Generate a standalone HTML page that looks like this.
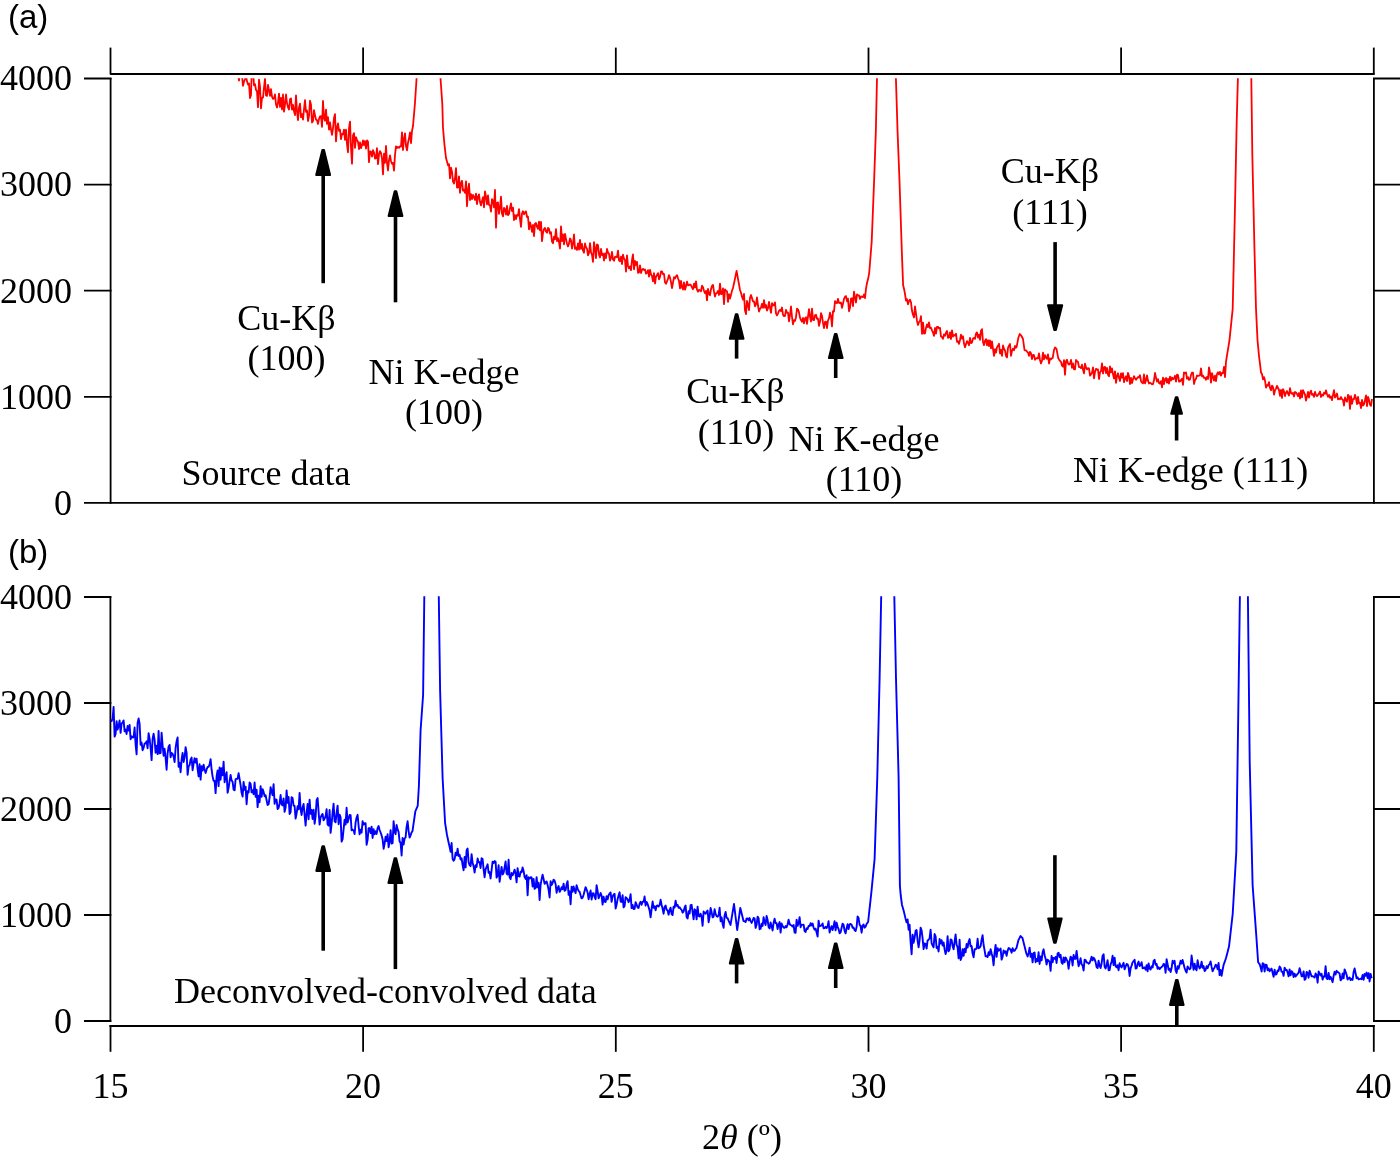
<!DOCTYPE html>
<html><head><meta charset="utf-8"><style>
html,body{margin:0;padding:0;background:#fff;width:1400px;height:1157px;overflow:hidden}
svg{display:block;will-change:transform}
</style></head><body><svg width="1400" height="1157" viewBox="0 0 1400 1157"><path d="M110.2 74H1374.6" stroke="#000" stroke-width="1.8" fill="none"/><path d="M110.5 47.6V74.5" stroke="#000" stroke-width="1.8"/><path d="M363.1 47.6V74.5" stroke="#000" stroke-width="1.8"/><path d="M615.8 47.6V74.5" stroke="#000" stroke-width="1.8"/><path d="M868.5 47.6V74.5" stroke="#000" stroke-width="1.8"/><path d="M1121.1 47.6V74.5" stroke="#000" stroke-width="1.8"/><path d="M1373.8 47.6V74.5" stroke="#000" stroke-width="1.8"/><path d="M110.6 78V503.8" stroke="#000" stroke-width="1.8"/><path d="M1373.9 78V503.8" stroke="#000" stroke-width="1.8"/><path d="M84 78.5H111.5M1373 78.5H1400" stroke="#000" stroke-width="1.8"/><path d="M84 184.6H111.5M1373 184.6H1400" stroke="#000" stroke-width="1.8"/><path d="M84 290.7H111.5M1373 290.7H1400" stroke="#000" stroke-width="1.8"/><path d="M84 396.8H111.5M1373 396.8H1400" stroke="#000" stroke-width="1.8"/><path d="M84 502.9H1400" stroke="#000" stroke-width="1.8"/><path d="M110.4 596.1V1021.9" stroke="#000" stroke-width="1.8"/><path d="M1373.9 596.1V1021.9" stroke="#000" stroke-width="1.8"/><path d="M84 597.0H111.3M1373 597.0H1400" stroke="#000" stroke-width="1.8"/><path d="M84 703.0H111.3M1373 703.0H1400" stroke="#000" stroke-width="1.8"/><path d="M84 809.0H111.3M1373 809.0H1400" stroke="#000" stroke-width="1.8"/><path d="M84 915.0H111.3M1373 915.0H1400" stroke="#000" stroke-width="1.8"/><path d="M84 1021.0H111.3M1373 1021.0H1400" stroke="#000" stroke-width="1.8"/><path d="M109.5 1026H1374.8" stroke="#000" stroke-width="1.8"/><path d="M110.5 1025.1V1051.8" stroke="#000" stroke-width="1.8"/><path d="M363.1 1025.1V1051.8" stroke="#000" stroke-width="1.8"/><path d="M615.8 1025.1V1051.8" stroke="#000" stroke-width="1.8"/><path d="M868.5 1025.1V1051.8" stroke="#000" stroke-width="1.8"/><path d="M1121.1 1025.1V1051.8" stroke="#000" stroke-width="1.8"/><path d="M1373.8 1025.1V1051.8" stroke="#000" stroke-width="1.8"/><path d="M323.2 283.2V175.0" stroke="#000" stroke-width="3.6"/><path d="M316.2 175.0L330.1 175.0L324.0 150.1L322.4 150.1Z" fill="#000" stroke="#000" stroke-width="2" stroke-linejoin="round"/><path d="M395.5 302.3V216.1" stroke="#000" stroke-width="3.6"/><path d="M388.6 216.1L402.4 216.1L396.3 191.2L394.7 191.2Z" fill="#000" stroke="#000" stroke-width="2" stroke-linejoin="round"/><path d="M736.6 358.6V338.7" stroke="#000" stroke-width="3.6"/><path d="M729.8 338.7L743.5 338.7L737.4 314.2L735.8 314.2Z" fill="#000" stroke="#000" stroke-width="2" stroke-linejoin="round"/><path d="M835.7 378.0V358.1" stroke="#000" stroke-width="3.6"/><path d="M828.9 358.1L842.6 358.1L836.5 333.9L834.9 333.9Z" fill="#000" stroke="#000" stroke-width="2" stroke-linejoin="round"/><path d="M1055.1 242.1V305.3" stroke="#000" stroke-width="3.6"/><path d="M1048.0 305.3L1062.2 305.3L1055.9 329.9L1054.3 329.9Z" fill="#000" stroke="#000" stroke-width="2" stroke-linejoin="round"/><path d="M1176.6 440.5V413.8" stroke="#000" stroke-width="3.6"/><path d="M1171.2 413.8L1182.0 413.8L1177.4 397.2L1175.8 397.2Z" fill="#000" stroke="#000" stroke-width="2" stroke-linejoin="round"/><path d="M323.2 950.7V870.9" stroke="#000" stroke-width="3.6"/><path d="M316.3 870.9L330.1 870.9L324.0 846.3L322.4 846.3Z" fill="#000" stroke="#000" stroke-width="2" stroke-linejoin="round"/><path d="M395.4 969.1V882.9" stroke="#000" stroke-width="3.6"/><path d="M388.4 882.9L402.3 882.9L396.2 858.3L394.6 858.3Z" fill="#000" stroke="#000" stroke-width="2" stroke-linejoin="round"/><path d="M736.6 983.4V963.6" stroke="#000" stroke-width="3.6"/><path d="M729.8 963.6L743.5 963.6L737.4 939.0L735.8 939.0Z" fill="#000" stroke="#000" stroke-width="2" stroke-linejoin="round"/><path d="M835.7 988.0V968.1" stroke="#000" stroke-width="3.6"/><path d="M828.9 968.1L842.6 968.1L836.5 943.5L834.9 943.5Z" fill="#000" stroke="#000" stroke-width="2" stroke-linejoin="round"/><path d="M1054.9 855.2V918.4" stroke="#000" stroke-width="3.6"/><path d="M1048.2 918.4L1061.7 918.4L1055.7 942.7L1054.1 942.7Z" fill="#000" stroke="#000" stroke-width="2" stroke-linejoin="round"/><path d="M1176.8 1025.0V1004.9" stroke="#000" stroke-width="3.6"/><path d="M1170.0 1004.9L1183.6 1004.9L1177.6 980.1L1176.0 980.1Z" fill="#000" stroke="#000" stroke-width="2" stroke-linejoin="round"/><defs><clipPath id="ca"><rect x="110" y="78.2" width="1264" height="425"/></clipPath><clipPath id="cb"><rect x="110" y="596.3" width="1264" height="425"/></clipPath></defs><path clip-path="url(#ca)" d="M228.0 62.4L229.0 66.6L230.0 61.5L231.0 49.1L232.0 70.2L233.0 68.3L234.0 61.5L235.0 73.1L236.0 73.5L237.0 74.7L238.0 74.5L239.0 80.6L240.0 71.5L241.0 76.9L242.0 75.6L243.0 85.8L244.0 81.9L245.0 79.3L246.0 75.8L247.0 81.3L248.0 84.5L249.0 83.4L250.0 98.0L251.0 95.1L252.0 62.4L253.0 69.4L254.0 85.3L255.0 84.2L256.0 90.0L257.0 91.2L258.0 107.2L259.0 79.7L260.0 86.5L261.0 108.4L262.0 97.6L263.0 97.6L264.0 87.6L265.0 78.8L266.0 95.4L267.0 95.9L268.0 84.9L269.0 90.1L270.0 95.8L271.0 89.1L272.0 96.6L273.0 98.9L274.0 98.5L275.0 94.4L276.0 104.3L277.0 107.5L278.0 102.6L279.0 93.6L280.0 106.9L281.0 97.9L282.0 109.5L283.0 94.5L284.0 111.6L285.0 104.5L286.0 94.5L287.0 103.1L288.0 107.4L289.0 109.5L290.0 99.2L291.0 98.4L292.0 109.7L293.0 104.9L294.0 111.1L295.0 115.1L296.0 95.4L297.0 111.5L298.0 120.2L299.0 107.6L300.0 103.6L301.0 117.1L302.0 114.2L303.0 119.6L304.0 109.3L305.0 100.2L306.0 111.9L307.0 110.5L308.0 121.0L309.0 116.1L310.0 100.7L311.0 104.6L312.0 122.5L313.0 121.1L314.0 110.1L315.0 115.3L316.0 119.5L317.0 120.3L318.0 123.9L319.0 119.1L320.0 116.4L321.0 116.2L322.0 126.9L323.0 101.0L324.0 118.4L325.0 120.7L326.0 109.6L327.0 123.9L328.0 117.2L329.0 129.6L330.0 122.5L331.0 129.6L332.0 134.8L333.0 128.3L334.0 118.0L335.0 114.2L336.0 141.4L337.0 127.7L338.0 123.4L339.0 130.9L340.0 129.7L341.0 139.1L342.0 133.8L343.0 134.2L344.0 129.7L345.0 139.8L346.0 129.6L347.0 144.5L348.0 152.3L349.0 128.2L350.0 121.6L351.0 147.7L352.0 163.7L353.0 135.4L354.0 133.1L355.0 147.9L356.0 137.2L357.0 139.8L358.0 141.9L359.0 149.1L360.0 142.3L361.0 148.1L362.0 145.2L363.0 140.5L364.0 145.0L365.0 141.0L366.0 148.7L367.0 140.4L368.0 141.6L369.0 162.2L370.0 151.4L371.0 151.7L372.0 156.6L373.0 150.2L374.0 152.5L375.0 158.6L376.0 158.2L377.0 148.2L378.0 164.2L379.0 154.3L380.0 151.1L381.0 153.0L382.0 158.5L383.0 174.4L384.0 153.6L385.0 162.8L386.0 146.0L387.0 162.8L388.0 170.5L389.0 160.2L390.0 155.5L391.0 161.0L392.0 163.8L393.0 162.9L394.0 170.6L395.0 154.9L396.0 146.3L397.0 148.0L398.0 146.9L399.0 147.8L400.0 146.3L401.0 146.6L402.0 132.3L403.0 150.0L404.0 138.8L405.0 133.3L406.0 146.1L407.0 150.4L408.0 142.7L409.0 138.3L410.0 132.3L411.0 143.1L412.0 131.0L413.0 126.0L414.0 114.4L414.9 104.0L415.0 102.5L416.0 87.2L416.6 78.0L417.0 70.0L418.0 50.0L419.0 35.0L420.0 20.0L421.0 20.0L422.0 20.0L423.0 20.0L424.0 20.0L425.0 20.0L426.0 20.0L427.0 20.0L428.0 20.0L429.0 20.0L430.0 20.0L431.0 20.0L432.0 20.0L433.0 20.0L434.0 20.0L435.0 20.0L436.0 20.0L437.0 20.0L438.0 35.0L439.0 50.0L440.0 68.7L440.5 78.0L441.0 85.2L442.0 99.7L442.3 104.0L443.0 128.0L444.0 139.3L444.5 145.0L445.0 149.3L446.0 158.0L447.0 161.5L448.0 165.4L449.0 164.2L450.0 178.4L451.0 167.7L452.0 171.9L453.0 181.7L454.0 183.6L455.0 178.5L456.0 168.1L457.0 187.5L458.0 187.5L459.0 176.4L460.0 192.8L461.0 183.2L462.0 180.8L463.0 190.6L464.0 189.9L465.0 192.8L466.0 181.4L467.0 206.3L468.0 189.9L469.0 183.7L470.0 200.0L471.0 194.1L472.0 199.0L473.0 194.9L474.0 197.3L475.0 199.9L476.0 193.7L477.0 204.1L478.0 196.7L479.0 194.4L480.0 202.0L481.0 205.4L482.0 201.0L483.0 197.2L484.0 207.4L485.0 191.3L486.0 196.6L487.0 204.4L488.0 195.3L489.0 205.0L490.0 205.3L491.0 211.6L492.0 199.1L493.0 201.0L494.0 207.3L495.0 189.9L496.0 227.7L497.0 202.8L498.0 202.4L499.0 213.8L500.0 207.9L501.0 196.7L502.0 213.7L503.0 216.3L504.0 207.8L505.0 209.3L506.0 214.7L507.0 206.0L508.0 215.2L509.0 214.0L510.0 207.9L511.0 203.3L512.0 211.1L513.0 207.6L514.0 220.1L515.0 215.1L516.0 219.1L517.0 215.0L518.0 215.5L519.0 209.1L520.0 219.2L521.0 226.9L522.0 213.3L523.0 211.2L524.0 214.3L525.0 212.4L526.0 211.3L527.0 217.0L528.0 216.7L529.0 229.4L530.0 222.3L531.0 226.1L532.0 231.9L533.0 225.0L534.0 236.2L535.0 223.8L536.0 223.0L537.0 226.8L538.0 228.9L539.0 221.7L540.0 230.4L541.0 221.8L542.0 241.1L543.0 232.8L544.0 229.1L545.0 227.9L546.0 231.5L547.0 232.8L548.0 227.9L549.0 228.9L550.0 233.7L551.0 232.3L552.0 241.6L553.0 243.2L554.0 236.7L555.0 239.2L556.0 229.1L557.0 241.1L558.0 238.1L559.0 242.0L560.0 248.5L561.0 226.4L562.0 241.0L563.0 234.4L564.0 244.3L565.0 233.9L566.0 238.9L567.0 243.7L568.0 246.5L569.0 243.4L570.0 238.4L571.0 240.2L572.0 248.7L573.0 243.6L574.0 234.5L575.0 248.9L576.0 247.4L577.0 249.8L578.0 243.5L579.0 249.7L580.0 239.9L581.0 248.8L582.0 243.8L583.0 250.6L584.0 252.7L585.0 243.5L586.0 247.3L587.0 248.7L588.0 255.4L589.0 253.0L590.0 243.1L591.0 252.3L592.0 254.9L593.0 261.9L594.0 242.1L595.0 248.2L596.0 258.2L597.0 244.4L598.0 245.2L599.0 254.7L600.0 257.5L601.0 249.0L602.0 255.1L603.0 253.6L604.0 260.7L605.0 253.5L606.0 258.1L607.0 249.0L608.0 252.6L609.0 253.9L610.0 260.6L611.0 258.1L612.0 252.0L613.0 259.5L614.0 260.7L615.0 256.9L616.0 256.6L617.0 257.2L618.0 250.7L619.0 260.4L620.0 261.2L621.0 256.6L622.0 264.2L623.0 254.6L624.0 258.6L625.0 260.0L626.0 271.7L627.0 255.4L628.0 265.7L629.0 268.4L630.0 266.4L631.0 270.2L632.0 260.0L633.0 254.5L634.0 269.3L635.0 261.0L636.0 265.0L637.0 261.9L638.0 272.9L639.0 272.4L640.0 265.3L641.0 273.0L642.0 269.8L643.0 268.8L644.0 270.0L645.0 269.4L646.0 273.7L647.0 272.7L648.0 270.1L649.0 276.7L650.0 269.8L651.0 274.4L652.0 276.0L653.0 281.3L654.0 273.1L655.0 283.5L656.0 276.7L657.0 274.9L658.0 273.1L659.0 279.3L660.0 277.0L661.0 271.5L662.0 271.4L663.0 274.1L664.0 274.0L665.0 282.3L666.0 283.8L667.0 281.4L668.0 278.7L669.0 275.1L670.0 277.5L671.0 282.1L672.0 288.2L673.0 282.7L674.0 277.1L675.0 278.5L676.0 276.3L677.0 275.1L678.0 278.3L679.0 280.8L680.0 288.5L681.0 281.0L682.0 287.3L683.0 289.5L684.0 282.5L685.0 289.7L686.0 286.3L687.0 281.7L688.0 285.3L689.0 285.1L690.0 284.5L691.0 285.3L692.0 287.5L693.0 289.2L694.0 283.7L695.0 287.5L696.0 281.3L697.0 289.6L698.0 291.7L699.0 289.8L700.0 290.4L701.0 291.4L702.0 285.6L703.0 287.3L704.0 290.8L705.0 293.1L706.0 290.9L707.0 300.3L708.0 288.9L709.0 293.7L710.0 295.2L711.0 289.1L712.0 286.0L713.0 285.0L714.0 291.7L715.0 296.6L716.0 293.3L717.0 293.0L718.0 291.0L719.0 295.0L720.0 283.7L721.0 294.2L722.0 293.8L723.0 288.3L724.0 304.1L725.0 289.4L726.0 290.7L727.0 291.2L728.0 301.9L729.0 294.2L730.0 298.5L731.0 294.8L732.0 290.8L733.0 288.0L734.0 283.3L735.0 278.6L736.0 273.8L736.6 271.0L737.0 273.2L738.0 278.8L739.0 284.4L740.0 290.0L741.0 292.8L742.0 296.8L743.0 299.6L744.0 293.9L745.0 310.6L746.0 314.1L747.0 300.9L748.0 304.5L749.0 310.2L750.0 297.7L751.0 295.0L752.0 298.1L753.0 301.4L754.0 301.4L755.0 306.3L756.0 304.3L757.0 297.5L758.0 305.5L759.0 311.5L760.0 308.8L761.0 307.7L762.0 303.8L763.0 307.8L764.0 300.1L765.0 307.6L766.0 305.0L767.0 310.6L768.0 308.1L769.0 301.8L770.0 307.7L771.0 312.8L772.0 303.1L773.0 305.5L774.0 304.9L775.0 302.4L776.0 313.3L777.0 315.5L778.0 313.3L779.0 310.9L780.0 309.8L781.0 311.1L782.0 307.5L783.0 314.8L784.0 316.2L785.0 315.8L786.0 309.9L787.0 312.7L788.0 312.6L789.0 321.3L790.0 314.8L791.0 306.5L792.0 317.0L793.0 324.3L794.0 320.1L795.0 320.9L796.0 317.2L797.0 308.7L798.0 309.4L799.0 312.4L800.0 317.7L801.0 320.1L802.0 321.8L803.0 317.9L804.0 323.4L805.0 318.6L806.0 317.2L807.0 323.9L808.0 316.6L809.0 309.1L810.0 316.6L811.0 321.5L812.0 308.7L813.0 319.9L814.0 320.2L815.0 315.3L816.0 314.8L817.0 318.8L818.0 318.6L819.0 325.9L820.0 321.8L821.0 313.1L822.0 316.0L823.0 322.9L824.0 328.0L825.0 321.8L826.0 321.6L827.0 328.1L828.0 320.5L829.0 318.1L830.0 312.7L831.0 316.2L832.0 326.5L833.0 311.1L834.0 311.5L835.0 301.1L836.0 302.7L837.0 303.1L838.0 298.8L839.0 302.9L840.0 303.1L841.0 302.4L842.0 307.8L843.0 303.9L844.0 298.8L845.0 296.8L846.0 296.1L847.0 301.4L848.0 298.7L849.0 311.3L850.0 307.7L851.0 298.7L852.0 298.3L853.0 306.2L854.0 291.7L855.0 297.2L856.0 302.5L857.0 294.4L858.0 295.3L859.0 295.5L860.0 299.0L861.0 296.4L862.0 296.9L863.0 297.1L864.0 294.5L865.0 298.1L866.0 288.7L867.0 283.0L868.0 279.3L869.0 274.1L869.2 273.0L870.0 263.0L871.0 250.4L871.7 241.6L872.0 234.0L873.0 208.8L874.0 183.5L874.1 181.0L875.0 155.4L875.8 132.6L876.0 123.5L877.0 78.0L878.0 40.0L879.0 40.0L880.0 40.0L881.0 40.0L882.0 40.0L883.0 40.0L884.0 40.0L885.0 40.0L886.0 40.0L887.0 40.0L888.0 40.0L889.0 40.0L890.0 40.0L891.0 40.0L892.0 40.0L893.0 40.0L894.0 40.0L895.0 40.0L895.9 78.0L896.0 81.2L897.0 113.3L897.6 132.6L898.0 142.8L899.0 168.3L899.5 181.0L900.0 196.1L901.0 226.4L901.9 253.7L902.0 256.3L903.0 282.4L903.1 285.0L904.0 288.7L905.0 294.0L906.0 300.7L907.0 299.3L908.0 304.3L909.0 300.8L910.0 299.7L911.0 302.3L912.0 310.8L913.0 314.7L914.0 317.5L915.0 306.5L916.0 313.6L917.0 320.9L918.0 325.0L919.0 322.0L920.0 320.9L921.0 316.2L922.0 333.8L923.0 322.7L924.0 333.6L925.0 333.3L926.0 327.9L927.0 324.4L928.0 327.1L929.0 322.4L930.0 328.2L931.0 327.7L932.0 330.3L933.0 332.6L934.0 335.8L935.0 328.0L936.0 333.7L937.0 327.0L938.0 326.8L939.0 328.4L940.0 327.9L941.0 336.4L942.0 337.1L943.0 338.9L944.0 334.3L945.0 335.7L946.0 332.8L947.0 331.0L948.0 337.8L949.0 337.5L950.0 332.5L951.0 339.0L952.0 330.4L953.0 336.5L954.0 335.1L955.0 335.5L956.0 333.7L957.0 341.9L958.0 341.2L959.0 343.9L960.0 340.0L961.0 334.7L962.0 338.6L963.0 336.3L964.0 343.5L965.0 347.3L966.0 344.3L967.0 341.1L968.0 342.6L969.0 345.2L970.0 338.0L971.0 343.2L972.0 342.5L973.0 338.6L974.0 338.0L975.0 338.9L976.0 333.6L977.0 332.4L978.0 337.5L979.0 334.7L980.0 339.9L981.0 330.8L982.0 329.1L983.0 342.3L984.0 345.1L985.0 340.8L986.0 339.1L987.0 345.4L988.0 340.2L989.0 346.2L990.0 340.4L991.0 348.3L992.0 341.5L993.0 348.9L994.0 355.8L995.0 349.2L996.0 352.7L997.0 347.2L998.0 345.8L999.0 343.8L1000.0 353.5L1001.0 349.9L1002.0 355.9L1003.0 345.5L1004.0 348.8L1005.0 350.4L1006.0 355.9L1007.0 357.4L1008.0 347.9L1009.0 345.7L1010.0 344.0L1011.0 355.9L1012.0 350.9L1013.0 348.7L1014.0 350.4L1015.0 345.9L1016.0 347.7L1016.6 347.0L1017.0 344.9L1018.0 339.6L1018.3 338.0L1019.0 336.0L1019.7 334.0L1020.0 334.3L1021.0 335.4L1021.5 336.0L1022.0 337.0L1023.0 339.0L1024.0 346.3L1024.5 350.0L1025.0 350.4L1026.0 350.4L1027.0 351.6L1028.0 352.6L1029.0 355.8L1030.0 351.8L1031.0 353.3L1032.0 359.0L1033.0 354.8L1034.0 355.1L1035.0 359.8L1036.0 358.3L1037.0 358.1L1038.0 358.5L1039.0 353.3L1040.0 359.9L1041.0 363.5L1042.0 360.6L1043.0 352.7L1044.0 359.3L1045.0 355.2L1046.0 357.7L1047.0 358.9L1048.0 354.3L1049.0 363.5L1050.0 358.5L1051.0 359.3L1052.0 358.2L1052.7 358.0L1053.0 356.2L1054.0 350.0L1055.0 347.5L1056.0 348.5L1056.5 349.0L1057.0 351.6L1058.0 356.9L1058.2 358.0L1059.0 359.4L1060.0 360.9L1061.0 361.9L1062.0 365.7L1063.0 366.7L1064.0 360.1L1065.0 374.8L1066.0 361.3L1067.0 359.7L1068.0 363.5L1069.0 364.5L1070.0 363.8L1071.0 359.9L1072.0 367.8L1073.0 363.4L1074.0 369.4L1075.0 369.3L1076.0 360.0L1077.0 361.3L1078.0 362.0L1079.0 367.2L1080.0 367.2L1081.0 368.2L1082.0 364.7L1083.0 369.7L1084.0 373.3L1085.0 363.6L1086.0 367.5L1087.0 369.4L1088.0 368.2L1089.0 368.3L1090.0 375.7L1091.0 374.3L1092.0 372.6L1093.0 367.3L1094.0 378.3L1095.0 372.1L1096.0 368.8L1097.0 369.6L1098.0 369.5L1099.0 379.0L1100.0 372.3L1101.0 371.2L1102.0 363.4L1103.0 373.5L1104.0 367.3L1105.0 366.9L1106.0 373.0L1107.0 368.0L1108.0 374.7L1109.0 376.2L1110.0 366.4L1111.0 372.4L1112.0 368.3L1113.0 374.4L1114.0 378.5L1115.0 371.3L1116.0 382.9L1117.0 376.1L1118.0 373.3L1119.0 377.8L1120.0 381.0L1121.0 373.3L1122.0 377.7L1123.0 373.2L1124.0 382.2L1125.0 378.5L1126.0 376.3L1127.0 381.1L1128.0 372.9L1129.0 376.1L1130.0 384.2L1131.0 377.8L1132.0 383.0L1133.0 379.2L1134.0 376.2L1135.0 378.2L1136.0 379.7L1137.0 378.3L1138.0 377.1L1139.0 377.3L1140.0 375.2L1141.0 381.2L1142.0 382.5L1143.0 383.4L1144.0 374.5L1145.0 383.4L1146.0 380.5L1147.0 375.4L1148.0 380.8L1149.0 383.5L1150.0 382.6L1151.0 383.4L1152.0 384.3L1153.0 384.1L1154.0 380.3L1155.0 373.0L1156.0 377.6L1157.0 381.7L1158.0 379.1L1159.0 383.1L1160.0 383.6L1161.0 381.2L1162.0 387.3L1163.0 377.6L1164.0 384.0L1165.0 379.1L1166.0 378.0L1167.0 382.7L1168.0 378.8L1169.0 383.6L1170.0 376.7L1171.0 380.5L1172.0 377.5L1173.0 379.3L1174.0 378.6L1175.0 375.8L1176.0 381.5L1177.0 374.6L1178.0 375.1L1179.0 381.5L1180.0 381.6L1181.0 380.1L1182.0 378.8L1183.0 384.9L1184.0 372.4L1185.0 373.2L1186.0 372.4L1187.0 378.9L1188.0 377.1L1189.0 379.9L1190.0 379.4L1191.0 375.0L1192.0 372.7L1193.0 372.6L1194.0 384.0L1195.0 380.2L1196.0 378.7L1197.0 375.5L1198.0 376.0L1199.0 375.7L1200.0 375.4L1201.0 368.4L1202.0 376.4L1203.0 375.6L1204.0 377.9L1205.0 377.7L1206.0 379.8L1207.0 376.8L1208.0 379.0L1209.0 367.3L1210.0 372.5L1211.0 382.7L1212.0 373.2L1213.0 376.7L1214.0 380.6L1215.0 375.7L1216.0 381.2L1217.0 374.1L1218.0 372.3L1219.0 374.5L1220.0 371.9L1221.0 375.7L1222.0 373.0L1223.0 373.1L1224.0 367.0L1225.0 377.1L1226.0 361.8L1227.0 355.4L1228.0 349.3L1229.0 343.1L1229.5 340.0L1230.0 335.1L1231.0 325.4L1232.0 315.6L1232.7 308.8L1233.0 295.5L1234.0 251.0L1234.8 215.5L1235.0 205.7L1236.0 156.6L1236.7 122.2L1237.0 111.2L1237.9 78.0L1238.0 74.5L1239.0 40.0L1240.0 40.0L1241.0 40.0L1242.0 40.0L1243.0 40.0L1244.0 40.0L1245.0 40.0L1246.0 40.0L1247.0 40.0L1248.0 40.0L1249.0 40.0L1250.0 40.0L1251.0 69.2L1251.3 78.0L1252.0 130.7L1252.3 153.3L1253.0 184.4L1254.0 228.8L1254.4 246.6L1255.0 269.9L1256.0 308.8L1257.0 329.6L1257.5 340.0L1258.0 345.3L1259.0 356.0L1260.0 363.9L1261.0 372.4L1262.0 374.0L1263.0 379.3L1264.0 377.1L1265.0 380.7L1266.0 387.7L1267.0 385.2L1268.0 385.6L1269.0 382.1L1270.0 388.0L1271.0 390.2L1272.0 385.6L1273.0 387.1L1274.0 394.7L1275.0 390.3L1276.0 388.6L1277.0 385.9L1278.0 388.0L1279.0 390.0L1280.0 395.8L1281.0 389.8L1282.0 398.0L1283.0 389.2L1284.0 391.4L1285.0 396.0L1286.0 392.7L1287.0 391.0L1288.0 393.6L1289.0 395.5L1290.0 388.2L1291.0 393.1L1292.0 393.8L1293.0 392.8L1294.0 396.5L1295.0 392.0L1296.0 392.5L1297.0 393.9L1298.0 396.1L1299.0 393.0L1300.0 398.5L1301.0 390.4L1302.0 397.4L1303.0 390.2L1304.0 392.3L1305.0 394.6L1306.0 400.5L1307.0 396.5L1308.0 392.0L1309.0 397.7L1310.0 392.6L1311.0 390.6L1312.0 394.9L1313.0 394.0L1314.0 396.9L1315.0 391.9L1316.0 395.0L1317.0 396.1L1318.0 394.9L1319.0 393.7L1320.0 391.5L1321.0 397.0L1322.0 394.6L1323.0 395.7L1324.0 392.8L1325.0 393.8L1326.0 390.3L1327.0 394.2L1328.0 396.8L1329.0 394.9L1330.0 397.8L1331.0 396.4L1332.0 400.2L1333.0 394.9L1334.0 390.2L1335.0 397.6L1336.0 395.9L1337.0 393.5L1338.0 399.4L1339.0 398.6L1340.0 399.3L1341.0 397.0L1342.0 399.1L1343.0 400.0L1344.0 405.5L1345.0 397.5L1346.0 400.1L1347.0 401.7L1348.0 394.8L1349.0 396.0L1350.0 409.0L1351.0 396.2L1352.0 403.8L1353.0 399.2L1354.0 399.0L1355.0 394.8L1356.0 398.6L1357.0 404.2L1358.0 396.9L1359.0 403.3L1360.0 402.7L1361.0 408.2L1362.0 399.8L1363.0 405.5L1364.0 404.3L1365.0 400.0L1366.0 395.5L1367.0 406.2L1368.0 396.8L1369.0 399.8L1370.0 404.9L1371.0 405.8L1372.0 399.0" stroke="#ff0000" stroke-width="1.8" fill="none" stroke-linejoin="round"/><path clip-path="url(#cb)" d="M110.6 721.0L111.6 721.0L112.6 718.7L113.6 706.9L114.6 736.6L115.6 733.9L116.6 721.2L117.6 729.6L118.6 726.1L119.6 720.5L120.6 732.8L121.6 723.7L122.6 722.3L123.6 720.4L124.6 731.4L125.6 729.5L126.6 734.0L127.6 725.9L128.6 730.6L129.6 724.9L130.6 739.3L131.6 736.3L132.6 737.5L133.6 737.4L134.6 727.5L135.6 744.4L136.6 754.3L137.6 722.9L138.6 718.4L139.6 723.7L140.6 744.7L141.6 742.6L142.6 750.2L143.6 747.9L144.6 743.4L145.6 743.4L146.6 741.3L147.6 748.3L148.6 733.2L149.6 738.6L150.6 748.0L151.6 760.1L152.6 738.9L153.6 733.7L154.6 739.9L155.6 752.7L156.6 745.6L157.6 754.1L158.6 730.9L159.6 753.4L160.6 753.0L161.6 732.8L162.6 745.3L163.6 755.7L164.6 748.8L165.6 758.0L166.6 769.7L167.6 753.3L168.6 746.7L169.6 744.9L170.6 757.2L171.6 753.0L172.6 753.7L173.6 756.6L174.6 762.1L175.6 748.0L176.6 741.3L177.6 737.4L178.6 766.7L179.6 762.8L180.6 772.2L181.6 759.7L182.6 753.0L183.6 762.0L184.6 757.3L185.6 747.2L186.6 752.6L187.6 774.8L188.6 766.4L189.6 765.1L190.6 759.4L191.6 757.6L192.6 770.2L193.6 763.5L194.6 758.2L195.6 762.6L196.6 758.7L197.6 768.9L198.6 776.5L199.6 764.3L200.6 779.6L201.6 766.2L202.6 770.5L203.6 764.6L204.6 769.8L205.6 772.9L206.6 769.4L207.6 767.0L208.6 766.8L209.6 764.5L210.6 759.1L211.6 769.5L212.6 776.6L213.6 780.8L214.6 780.9L215.6 793.1L216.6 776.5L217.6 770.4L218.6 786.1L219.6 767.4L220.6 779.7L221.6 768.3L222.6 775.3L223.6 761.6L224.6 782.3L225.6 776.5L226.6 772.2L227.6 792.7L228.6 787.9L229.6 780.8L230.6 774.9L231.6 780.4L232.6 781.8L233.6 789.7L234.6 790.3L235.6 779.1L236.6 778.9L237.6 778.7L238.6 773.2L239.6 779.2L240.6 785.1L241.6 792.8L242.6 796.6L243.6 781.9L244.6 789.9L245.6 786.6L246.6 804.2L247.6 791.1L248.6 792.5L249.6 782.5L250.6 783.9L251.6 792.3L252.6 790.3L253.6 794.2L254.6 782.5L255.6 796.8L256.6 789.8L257.6 807.1L258.6 795.7L259.6 802.2L260.6 786.1L261.6 796.9L262.6 789.2L263.6 791.9L264.6 796.4L265.6 795.2L266.6 800.3L267.6 805.0L268.6 804.3L269.6 797.3L270.6 787.3L271.6 791.4L272.6 795.2L273.6 784.2L274.6 803.9L275.6 799.4L276.6 799.7L277.6 809.0L278.6 807.9L279.6 803.2L280.6 795.0L281.6 804.5L282.6 805.4L283.6 798.4L284.6 811.9L285.6 807.6L286.6 790.4L287.6 802.8L288.6 797.0L289.6 814.0L290.6 812.1L291.6 797.3L292.6 798.1L293.6 805.6L294.6 806.0L295.6 818.6L296.6 813.6L297.6 806.1L298.6 809.3L299.6 792.9L300.6 809.1L301.6 815.0L302.6 807.4L303.6 804.0L304.6 815.0L305.6 825.6L306.6 812.8L307.6 804.0L308.6 819.2L309.6 799.6L310.6 813.7L311.6 810.0L312.6 819.0L313.6 809.8L314.6 823.8L315.6 816.5L316.6 800.2L317.6 798.1L318.6 812.0L319.6 824.6L320.6 817.4L321.6 815.3L322.6 813.9L323.6 820.4L324.6 818.6L325.6 816.3L326.6 809.1L327.6 824.4L328.6 825.6L329.6 810.0L330.6 832.9L331.6 824.0L332.6 812.5L333.6 803.7L334.6 821.4L335.6 822.3L336.6 812.6L337.6 805.6L338.6 824.2L339.6 814.7L340.6 817.4L341.6 841.6L342.6 839.1L343.6 829.2L344.6 819.7L345.6 824.6L346.6 807.7L347.6 822.5L348.6 819.0L349.6 815.0L350.6 815.1L351.6 830.2L352.6 829.6L353.6 830.6L354.6 834.1L355.6 822.4L356.6 817.5L357.6 814.8L358.6 825.8L359.6 834.3L360.6 829.6L361.6 832.7L362.6 821.2L363.6 824.6L364.6 823.3L365.6 823.3L366.6 844.8L367.6 839.8L368.6 828.2L369.6 828.3L370.6 833.0L371.6 826.7L372.6 838.0L373.6 829.3L374.6 834.2L375.6 831.3L376.6 833.9L377.6 828.1L378.6 826.0L379.6 830.0L380.6 832.5L381.6 835.4L382.6 839.2L383.6 848.7L384.6 843.9L385.6 836.6L386.6 841.1L387.6 834.3L388.6 847.3L389.6 841.7L390.6 830.1L391.6 843.6L392.6 843.2L393.6 821.2L394.6 831.8L395.6 834.2L396.6 825.0L397.6 829.4L398.6 831.9L399.6 841.4L400.6 842.9L401.6 855.5L402.6 837.9L403.6 844.5L404.6 838.5L405.6 837.3L406.6 826.8L407.6 821.3L408.6 831.1L409.6 837.6L410.6 835.3L411.6 832.4L412.5 831.0L412.6 830.3L413.6 823.4L414.6 816.5L415.4 811.0L415.6 810.6L416.6 808.4L417.6 806.2L417.7 806.0L418.6 791.0L418.9 786.0L419.6 762.9L420.6 730.0L421.6 716.0L422.6 702.0L423.1 695.0L423.6 654.2L424.3 597.0L424.6 581.1L425.0 560.0L425.6 560.0L426.6 560.0L427.6 560.0L428.6 560.0L429.6 560.0L430.6 560.0L431.6 560.0L432.6 560.0L433.6 560.0L434.6 560.0L435.6 560.0L436.6 560.0L437.6 560.0L438.0 560.0L438.6 587.8L438.8 597.0L439.6 654.2L440.1 690.0L440.6 707.6L441.6 742.8L442.6 778.0L443.6 796.0L444.6 814.0L445.1 823.0L445.6 826.2L446.6 832.5L447.0 835.0L447.6 837.8L448.6 842.5L449.6 846.9L450.6 851.9L451.6 843.0L452.6 858.8L453.6 860.7L454.6 859.2L455.6 852.8L456.6 855.3L457.6 848.7L458.6 856.1L459.6 854.8L460.6 859.5L461.6 858.3L462.6 865.0L463.6 870.2L464.6 857.0L465.6 867.4L466.6 850.2L467.6 848.5L468.6 862.1L469.6 865.2L470.6 866.2L471.6 854.1L472.6 862.8L473.6 866.3L474.6 872.6L475.6 865.3L476.6 867.0L477.6 858.5L478.6 862.2L479.6 862.2L480.6 868.0L481.6 858.2L482.6 859.0L483.6 869.3L484.6 877.2L485.6 869.2L486.6 867.0L487.6 864.3L488.6 872.8L489.6 872.0L490.6 878.5L491.6 870.0L492.6 861.6L493.6 863.1L494.6 861.1L495.6 861.8L496.6 877.6L497.6 875.6L498.6 865.3L499.6 881.8L500.6 874.1L501.6 866.9L502.6 874.5L503.6 872.7L504.6 867.4L505.6 861.5L506.6 873.5L507.6 874.6L508.6 859.8L509.6 877.1L510.6 879.2L511.6 873.0L512.6 875.3L513.6 872.9L514.6 869.6L515.6 873.7L516.6 882.4L517.6 868.1L518.6 876.2L519.6 876.6L520.6 871.7L521.6 872.2L522.6 867.4L523.6 870.9L524.6 877.1L525.6 878.9L526.6 875.1L527.6 895.3L528.6 877.3L529.6 878.6L530.6 877.2L531.6 877.5L532.6 886.5L533.6 879.0L534.6 888.8L535.6 888.0L536.6 877.1L537.6 887.4L538.6 882.7L539.6 900.0L540.6 884.8L541.6 879.3L542.6 874.6L543.6 878.9L544.6 883.9L545.6 882.3L546.6 881.4L547.6 885.0L548.6 889.8L549.6 897.5L550.6 881.2L551.6 885.1L552.6 883.1L553.6 879.6L554.6 880.7L555.6 884.0L556.6 892.7L557.6 888.1L558.6 886.0L559.6 891.9L560.6 890.2L561.6 887.2L562.6 889.2L563.6 883.6L564.6 890.8L565.6 890.1L566.6 884.3L567.6 881.1L568.6 894.9L569.6 891.3L570.6 904.2L571.6 886.8L572.6 891.8L573.6 886.5L574.6 890.2L575.6 893.1L576.6 885.2L577.6 888.6L578.6 891.0L579.6 891.7L580.6 895.2L581.6 898.4L582.6 897.8L583.6 894.7L584.6 890.9L585.6 887.1L586.6 889.6L587.6 892.5L588.6 899.2L589.6 894.2L590.6 890.5L591.6 899.5L592.6 893.4L593.6 893.3L594.6 897.0L595.6 899.2L596.6 885.1L597.6 890.9L598.6 898.4L599.6 896.0L600.6 893.0L601.6 895.5L602.6 904.6L603.6 896.8L604.6 901.7L605.6 902.0L606.6 896.1L607.6 899.4L608.6 895.3L609.6 893.6L610.6 892.4L611.6 901.8L612.6 896.5L613.6 894.6L614.6 893.9L615.6 908.5L616.6 904.7L617.6 899.2L618.6 895.4L619.6 892.3L620.6 901.5L621.6 901.9L622.6 895.2L623.6 907.3L624.6 906.0L625.6 897.1L626.6 898.1L627.6 899.4L628.6 902.2L629.6 899.9L630.6 894.1L631.6 908.1L632.6 905.0L633.6 909.1L634.6 908.8L635.6 902.1L636.6 904.6L637.6 907.5L638.6 907.9L639.6 903.6L640.6 901.8L641.6 904.8L642.6 901.8L643.6 901.9L644.6 896.5L645.6 905.6L646.6 902.0L647.6 904.0L648.6 907.1L649.6 910.4L650.6 917.4L651.6 909.3L652.6 901.5L653.6 907.8L654.6 906.3L655.6 910.3L656.6 905.9L657.6 905.5L658.6 906.5L659.6 905.2L660.6 899.8L661.6 904.7L662.6 908.9L663.6 913.7L664.6 906.8L665.6 905.6L666.6 909.7L667.6 910.5L668.6 914.7L669.6 910.1L670.6 907.7L671.6 914.1L672.6 915.0L673.6 906.6L674.6 907.6L675.6 900.7L676.6 905.8L677.6 904.9L678.6 907.8L679.6 907.3L680.6 908.8L681.6 909.8L682.6 912.6L683.6 911.5L684.6 907.5L685.6 905.5L686.6 917.0L687.6 918.5L688.6 911.1L689.6 913.6L690.6 905.1L691.6 904.8L692.6 912.0L693.6 919.3L694.6 909.3L695.6 910.3L696.6 919.3L697.6 906.7L698.6 915.9L699.6 916.5L700.6 913.7L701.6 916.7L702.6 925.8L703.6 911.5L704.6 913.1L705.6 913.8L706.6 911.7L707.6 910.5L708.6 922.2L709.6 916.9L710.6 908.0L711.6 912.1L712.6 917.4L713.6 916.7L714.6 909.3L715.6 913.9L716.6 916.1L717.6 916.7L718.6 915.3L719.6 907.8L720.6 921.2L721.6 917.3L722.6 923.9L723.6 927.8L724.6 915.4L725.6 911.9L726.6 917.9L727.6 918.2L728.6 920.7L729.6 922.9L730.5 925.0L730.6 924.4L731.6 918.4L732.6 912.4L733.6 906.4L734.0 904.0L734.6 908.9L735.6 917.0L736.6 925.1L737.2 930.0L737.6 927.2L738.6 920.1L739.6 913.0L740.3 908.0L740.6 909.2L741.6 913.3L742.6 917.3L743.5 921.0L743.6 921.0L744.6 921.2L745.6 922.1L746.6 918.4L747.6 918.4L748.6 920.3L749.6 918.0L750.6 921.1L751.6 922.9L752.6 920.7L753.6 918.0L754.6 918.3L755.6 927.9L756.6 924.8L757.6 916.6L758.6 918.2L759.6 929.2L760.6 928.7L761.6 923.8L762.6 926.0L763.6 917.2L764.6 922.4L765.6 925.0L766.6 915.9L767.6 919.9L768.6 927.0L769.6 928.5L770.6 922.5L771.6 925.9L772.6 930.5L773.6 922.9L774.6 918.7L775.6 923.0L776.6 923.2L777.6 929.0L778.6 924.8L779.6 922.1L780.6 932.6L781.6 923.5L782.6 926.0L783.6 927.5L784.6 927.9L785.6 926.1L786.6 927.3L787.6 924.5L788.6 919.8L789.6 924.0L790.6 925.0L791.6 925.5L792.6 926.6L793.6 925.0L794.6 932.5L795.6 932.7L796.6 919.6L797.6 925.9L798.6 923.3L799.6 917.2L800.6 927.2L801.6 924.8L802.6 924.9L803.6 924.7L804.6 931.1L805.6 931.9L806.6 928.3L807.6 928.9L808.6 926.0L809.6 926.1L810.6 923.2L811.6 925.4L812.6 923.5L813.6 927.6L814.6 929.7L815.6 928.6L816.6 932.6L817.6 936.6L818.6 920.6L819.6 926.3L820.6 925.6L821.6 925.6L822.6 923.4L823.6 928.4L824.6 928.0L825.6 926.8L826.6 928.1L827.6 926.2L828.6 921.3L829.6 932.5L830.6 928.8L831.6 926.2L832.6 930.0L833.6 926.1L834.6 921.3L835.6 930.4L836.6 922.8L837.6 926.8L838.6 929.1L839.6 933.3L840.6 932.4L841.6 927.7L842.6 923.6L843.6 924.9L844.6 930.8L845.6 933.3L846.6 928.4L847.6 924.1L848.6 929.0L849.6 924.6L850.6 923.9L851.6 924.7L852.6 927.8L853.6 927.5L854.6 930.1L855.6 931.1L856.6 927.0L857.6 916.4L858.6 918.1L859.6 924.9L860.6 926.0L861.6 932.7L862.6 925.6L863.6 924.5L864.6 927.7L865.6 926.7L866.6 924.0L867.6 922.7L868.1 922.0L868.6 917.5L869.6 908.4L870.6 899.3L871.4 892.0L871.6 889.9L872.6 879.6L873.6 869.3L874.6 859.0L875.6 828.6L876.6 798.3L877.3 777.0L877.6 764.2L878.6 721.3L879.6 678.5L880.6 626.9L881.2 596.0L881.6 578.0L882.0 560.0L882.6 560.0L883.6 560.0L884.6 560.0L885.6 560.0L886.6 560.0L887.6 560.0L888.6 560.0L889.6 560.0L890.6 560.0L891.6 560.0L892.6 560.0L893.5 560.0L893.6 564.5L894.3 596.0L894.6 610.6L895.6 659.1L896.0 678.5L896.6 701.2L897.6 739.1L898.6 777.0L899.6 860.8L899.9 886.0L900.6 893.8L900.8 896.0L901.6 902.0L902.0 905.0L902.6 907.1L903.6 910.6L904.0 912.0L904.6 914.6L905.6 918.9L906.6 922.4L907.6 919.4L908.6 929.7L909.6 924.8L910.6 942.1L911.6 954.2L912.6 934.6L913.6 942.8L914.6 937.8L915.6 930.8L916.6 930.0L917.6 940.7L918.6 947.4L919.6 940.1L920.6 927.6L921.6 930.4L922.6 938.4L923.6 949.1L924.6 943.5L925.6 943.8L926.6 948.6L927.6 940.3L928.6 939.9L929.6 938.1L930.6 929.7L931.6 943.2L932.6 945.5L933.6 947.3L934.6 934.0L935.6 936.4L936.6 948.0L937.6 946.8L938.6 951.5L939.6 939.0L940.6 943.6L941.6 940.1L942.6 945.5L943.6 942.5L944.6 949.4L945.6 954.0L946.6 950.0L947.6 936.1L948.6 951.4L949.6 949.4L950.6 939.5L951.6 939.9L952.6 946.1L953.6 949.3L954.6 941.7L955.6 934.4L956.6 944.9L957.6 947.4L958.6 958.3L959.6 939.7L960.6 960.0L961.6 957.4L962.6 949.2L963.6 955.8L964.6 948.7L965.6 952.3L966.6 944.0L967.6 947.6L968.6 941.9L969.6 939.1L970.6 946.3L971.6 946.0L972.6 953.5L973.6 957.3L974.6 949.2L975.6 949.3L976.6 948.5L977.6 938.8L978.6 948.2L979.6 947.7L980.6 946.3L981.6 939.7L982.6 935.3L983.6 945.0L984.6 950.4L985.6 956.4L986.6 956.2L987.6 957.1L988.6 952.1L989.6 955.0L990.6 949.1L991.6 953.3L992.6 957.0L993.6 965.3L994.6 952.5L995.6 944.9L996.6 956.9L997.6 948.1L998.6 950.7L999.6 949.9L1000.6 948.5L1001.6 959.6L1002.6 956.7L1003.6 950.4L1004.6 952.8L1005.6 951.3L1006.6 955.7L1007.6 950.9L1008.6 948.1L1009.6 948.5L1010.6 949.9L1011.6 952.7L1012.6 948.1L1013.6 950.9L1014.6 950.8L1015.6 949.1L1016.5 948.0L1016.6 947.6L1017.6 943.6L1018.5 940.0L1018.6 939.8L1019.6 937.8L1020.5 936.0L1020.6 936.1L1021.6 937.1L1022.5 938.0L1022.6 938.4L1023.6 942.4L1024.5 946.0L1024.6 946.4L1025.6 950.4L1026.5 954.0L1026.6 954.0L1027.6 956.5L1028.6 952.9L1029.6 947.6L1030.6 956.9L1031.6 953.7L1032.6 962.4L1033.6 953.1L1034.6 952.5L1035.6 962.2L1036.6 959.0L1037.6 961.2L1038.6 952.3L1039.6 964.0L1040.6 956.4L1041.6 960.4L1042.6 952.3L1043.6 949.3L1044.6 955.2L1045.6 958.7L1046.6 964.5L1047.6 959.8L1048.6 960.6L1049.6 962.1L1050.6 970.9L1051.6 955.9L1052.6 962.4L1053.6 957.9L1054.6 958.8L1055.6 956.9L1056.6 963.0L1057.6 953.5L1058.6 952.7L1059.6 957.2L1060.6 954.8L1061.6 962.7L1062.6 963.8L1063.6 957.4L1064.6 962.4L1065.6 957.4L1066.6 959.5L1067.6 961.4L1068.6 968.8L1069.6 961.4L1070.6 956.6L1071.6 957.6L1072.6 965.5L1073.6 955.0L1074.6 958.8L1075.6 958.8L1076.6 950.9L1077.6 959.2L1078.6 966.2L1079.6 962.9L1080.6 958.3L1081.6 964.4L1082.6 965.5L1083.6 970.5L1084.6 959.6L1085.6 960.1L1086.6 962.5L1087.6 962.5L1088.6 963.7L1089.6 963.0L1090.6 960.1L1091.6 956.7L1092.6 960.4L1093.6 957.7L1094.6 959.1L1095.6 962.1L1096.6 967.1L1097.6 968.0L1098.6 960.7L1099.6 965.6L1100.6 968.0L1101.6 963.5L1102.6 955.7L1103.6 954.2L1104.6 966.7L1105.6 968.5L1106.6 965.0L1107.6 960.3L1108.6 970.2L1109.6 970.0L1110.6 964.3L1111.6 961.8L1112.6 955.8L1113.6 965.1L1114.6 957.7L1115.6 966.2L1116.6 967.3L1117.6 965.3L1118.6 970.2L1119.6 963.3L1120.6 966.2L1121.6 967.4L1122.6 964.9L1123.6 962.8L1124.6 969.3L1125.6 966.7L1126.6 964.0L1127.6 964.3L1128.6 967.4L1129.6 976.0L1130.6 968.3L1131.6 965.6L1132.6 962.3L1133.6 961.2L1134.6 959.7L1135.6 968.5L1136.6 968.4L1137.6 963.6L1138.6 961.6L1139.6 966.0L1140.6 965.1L1141.6 962.2L1142.6 968.3L1143.6 968.1L1144.6 967.4L1145.6 969.7L1146.6 965.2L1147.6 971.4L1148.6 963.4L1149.6 968.6L1150.6 969.5L1151.6 966.3L1152.6 967.5L1153.6 960.9L1154.6 959.8L1155.6 964.8L1156.6 963.9L1157.6 968.7L1158.6 967.3L1159.6 969.1L1160.6 967.9L1161.6 967.0L1162.6 966.1L1163.6 963.9L1164.6 964.6L1165.6 972.8L1166.6 959.2L1167.6 964.3L1168.6 969.8L1169.6 968.7L1170.6 972.1L1171.6 968.1L1172.6 960.8L1173.6 963.2L1174.6 960.8L1175.6 970.5L1176.6 972.9L1177.6 966.1L1178.6 968.7L1179.6 964.8L1180.6 960.7L1181.6 963.6L1182.6 960.0L1183.6 964.0L1184.6 968.0L1185.6 970.8L1186.6 972.5L1187.6 966.4L1188.6 968.0L1189.6 969.3L1190.6 968.2L1191.6 955.5L1192.6 963.1L1193.6 969.8L1194.6 963.6L1195.6 968.5L1196.6 970.2L1197.6 960.3L1198.6 965.9L1199.6 968.4L1200.6 966.9L1201.6 961.6L1202.6 967.9L1203.6 966.1L1204.6 971.1L1205.6 969.9L1206.6 966.2L1207.6 968.2L1208.6 965.2L1209.6 964.2L1210.6 961.4L1211.6 966.9L1212.6 971.4L1213.6 969.0L1214.6 967.5L1215.6 964.8L1216.6 965.4L1217.6 969.3L1218.6 963.0L1219.6 975.1L1220.6 969.9L1221.6 975.9L1222.6 970.0L1223.6 964.9L1224.6 962.2L1225.6 959.2L1226.0 958.0L1226.6 955.7L1227.6 951.9L1228.6 948.1L1229.0 946.6L1229.6 941.3L1230.6 932.5L1231.6 923.7L1232.6 914.9L1232.7 914.0L1233.6 898.5L1234.6 881.3L1235.6 864.1L1236.3 852.0L1236.6 830.8L1237.6 760.3L1238.1 725.0L1238.6 689.2L1239.6 617.5L1239.9 596.0L1240.5 560.0L1240.6 560.0L1241.6 560.0L1242.6 560.0L1243.6 560.0L1244.6 560.0L1245.6 560.0L1246.6 560.0L1247.3 560.0L1247.6 578.0L1247.9 596.0L1248.6 660.4L1249.6 752.3L1249.7 761.5L1250.6 799.8L1251.6 842.4L1252.6 885.0L1253.6 898.7L1254.6 912.4L1255.6 926.1L1256.3 935.7L1256.6 940.1L1257.6 954.7L1258.1 962.0L1258.6 962.8L1259.6 964.1L1260.6 967.1L1261.6 971.6L1262.6 963.3L1263.6 963.7L1264.6 971.5L1265.6 964.6L1266.6 964.9L1267.6 970.3L1268.6 968.4L1269.6 971.3L1270.6 969.7L1271.6 968.6L1272.6 972.9L1273.6 976.8L1274.6 969.7L1275.6 974.6L1276.6 973.9L1277.6 970.4L1278.6 970.9L1279.6 966.5L1280.6 967.9L1281.6 971.7L1282.6 972.0L1283.6 975.9L1284.6 967.6L1285.6 970.1L1286.6 969.8L1287.6 972.3L1288.6 976.4L1289.6 969.4L1290.6 975.3L1291.6 971.2L1292.6 972.3L1293.6 977.0L1294.6 973.6L1295.6 976.5L1296.6 975.1L1297.6 974.0L1298.6 972.7L1299.6 968.3L1300.6 972.1L1301.6 976.3L1302.6 976.2L1303.6 971.4L1304.6 979.9L1305.6 978.8L1306.6 971.9L1307.6 972.8L1308.6 977.7L1309.6 970.6L1310.6 973.5L1311.6 976.4L1312.6 976.3L1313.6 976.6L1314.6 977.6L1315.6 973.4L1316.6 975.0L1317.6 982.7L1318.6 971.5L1319.6 973.5L1320.6 975.5L1321.6 973.8L1322.6 979.6L1323.6 976.5L1324.6 976.6L1325.6 966.2L1326.6 978.4L1327.6 979.1L1328.6 973.0L1329.6 979.2L1330.6 976.8L1331.6 979.3L1332.6 982.2L1333.6 976.0L1334.6 971.8L1335.6 974.5L1336.6 970.8L1337.6 972.1L1338.6 972.5L1339.6 973.7L1340.6 980.4L1341.6 979.1L1342.6 973.5L1343.6 978.4L1344.6 969.4L1345.6 971.9L1346.6 974.8L1347.6 979.5L1348.6 978.3L1349.6 977.4L1350.6 980.1L1351.6 978.8L1352.6 979.9L1353.6 972.0L1354.6 968.4L1355.6 973.3L1356.6 978.3L1357.6 977.3L1358.6 979.4L1359.6 979.1L1360.6 978.7L1361.6 979.2L1362.6 974.9L1363.6 979.9L1364.6 973.9L1365.6 975.7L1366.6 972.6L1367.6 978.1L1368.6 973.1L1369.6 981.5L1370.6 973.9L1371.6 978.2" stroke="#0000ff" stroke-width="1.9" fill="none" stroke-linejoin="round"/><text x="72" y="90.3" text-anchor="end" font-family="'Liberation Serif', serif" font-size="36" >4000</text><text x="72" y="609.2" text-anchor="end" font-family="'Liberation Serif', serif" font-size="36" >4000</text><text x="72" y="196.4" text-anchor="end" font-family="'Liberation Serif', serif" font-size="36" >3000</text><text x="72" y="715.2" text-anchor="end" font-family="'Liberation Serif', serif" font-size="36" >3000</text><text x="72" y="302.5" text-anchor="end" font-family="'Liberation Serif', serif" font-size="36" >2000</text><text x="72" y="821.2" text-anchor="end" font-family="'Liberation Serif', serif" font-size="36" >2000</text><text x="72" y="408.6" text-anchor="end" font-family="'Liberation Serif', serif" font-size="36" >1000</text><text x="72" y="927.2" text-anchor="end" font-family="'Liberation Serif', serif" font-size="36" >1000</text><text x="72" y="514.7" text-anchor="end" font-family="'Liberation Serif', serif" font-size="36" >0</text><text x="72" y="1033.2" text-anchor="end" font-family="'Liberation Serif', serif" font-size="36" >0</text><text x="110.5" y="1098.4" text-anchor="middle" font-family="'Liberation Serif', serif" font-size="36" >15</text><text x="363.1" y="1098.4" text-anchor="middle" font-family="'Liberation Serif', serif" font-size="36" >20</text><text x="615.8" y="1098.4" text-anchor="middle" font-family="'Liberation Serif', serif" font-size="36" >25</text><text x="868.5" y="1098.4" text-anchor="middle" font-family="'Liberation Serif', serif" font-size="36" >30</text><text x="1121.1" y="1098.4" text-anchor="middle" font-family="'Liberation Serif', serif" font-size="36" >35</text><text x="1373.8" y="1098.4" text-anchor="middle" font-family="'Liberation Serif', serif" font-size="36" >40</text><text x="8" y="28.2" text-anchor="start" font-family="'Liberation Sans', sans-serif" font-size="33" >(a)</text><text x="8" y="562.8" text-anchor="start" font-family="'Liberation Sans', sans-serif" font-size="33" >(b)</text><text x="286.5" y="330" text-anchor="middle" font-family="'Liberation Serif', serif" font-size="36" >Cu-K&#946;</text><text x="286.5" y="370" text-anchor="middle" font-family="'Liberation Serif', serif" font-size="36" >(100)</text><text x="444" y="383.5" text-anchor="middle" font-family="'Liberation Serif', serif" font-size="36" >Ni K-edge</text><text x="444" y="423.5" text-anchor="middle" font-family="'Liberation Serif', serif" font-size="36" >(100)</text><text x="735.5" y="402.5" text-anchor="middle" font-family="'Liberation Serif', serif" font-size="36" >Cu-K&#946;</text><text x="736" y="443.5" text-anchor="middle" font-family="'Liberation Serif', serif" font-size="36" >(110)</text><text x="864" y="450.5" text-anchor="middle" font-family="'Liberation Serif', serif" font-size="36" >Ni K-edge</text><text x="864" y="490.5" text-anchor="middle" font-family="'Liberation Serif', serif" font-size="36" >(110)</text><text x="1050" y="183" text-anchor="middle" font-family="'Liberation Serif', serif" font-size="36" >Cu-K&#946;</text><text x="1050" y="223.5" text-anchor="middle" font-family="'Liberation Serif', serif" font-size="36" >(111)</text><text x="1190.5" y="482.3" text-anchor="middle" font-family="'Liberation Serif', serif" font-size="36" >Ni K-edge (111)</text><text x="181.5" y="485" text-anchor="start" font-family="'Liberation Serif', serif" font-size="36" >Source data</text><text x="174" y="1003.4" text-anchor="start" font-family="'Liberation Serif', serif" font-size="36" >Deconvolved-convolved data</text><text x="742" y="1149.3" text-anchor="middle" font-family="'Liberation Serif', serif" font-size="36">2<tspan font-style="italic">&#952;</tspan> (&#186;)</text></svg></body></html>
